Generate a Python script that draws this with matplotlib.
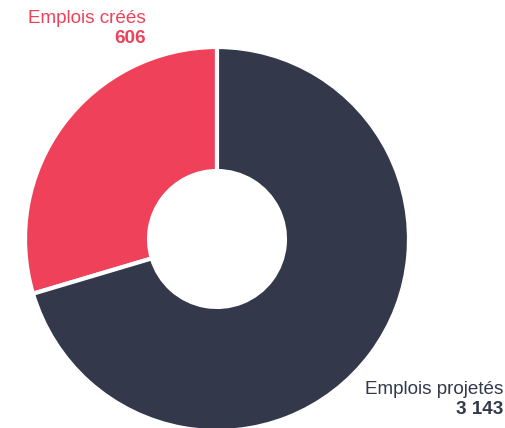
import matplotlib

matplotlib.use("Agg")

import matplotlib.pyplot as plt

# slice shares (angles), and the printed labels
categories = ["Emplois créés", "Emplois projetés"]
shares = [29.6, 70.4]
value_labels = ["606", "3 143"]
colors = ["#F0415A", "#33384B"]

W, H = 506, 428
fig = plt.figure(figsize=(W / 100, H / 100), dpi=100, facecolor="white")
ax = fig.add_axes([0, 0, 1, 1])

cx, cy, r = 217, H - 239, 192
ax.pie(shares, colors=colors, startangle=90, counterclock=True,
       center=(cx, cy), radius=r,
       wedgeprops=dict(width=r * 0.646, edgecolor="white", linewidth=3))
ax.set_xlim(0, W)
ax.set_ylim(0, H)
ax.set_aspect("equal")
ax.set_axis_off()

font = "Liberation Sans"
fs = 13.6
# created jobs label, top left
ax.text(146, H - 18, categories[0], ha="right", va="center",
        fontsize=fs, color=colors[0], family=font)
ax.text(146, H - 38, value_labels[0], ha="right", va="center",
        fontsize=fs, color=colors[0], family=font, fontweight="bold")
# projected jobs label, bottom right
ax.text(503, H - 389, categories[1], ha="right", va="center",
        fontsize=fs, color=colors[1], family=font)
ax.text(503, H - 409, value_labels[1], ha="right", va="center",
        fontsize=fs, color=colors[1], family=font, fontweight="bold")

fig.savefig("out.png", dpi=100)
